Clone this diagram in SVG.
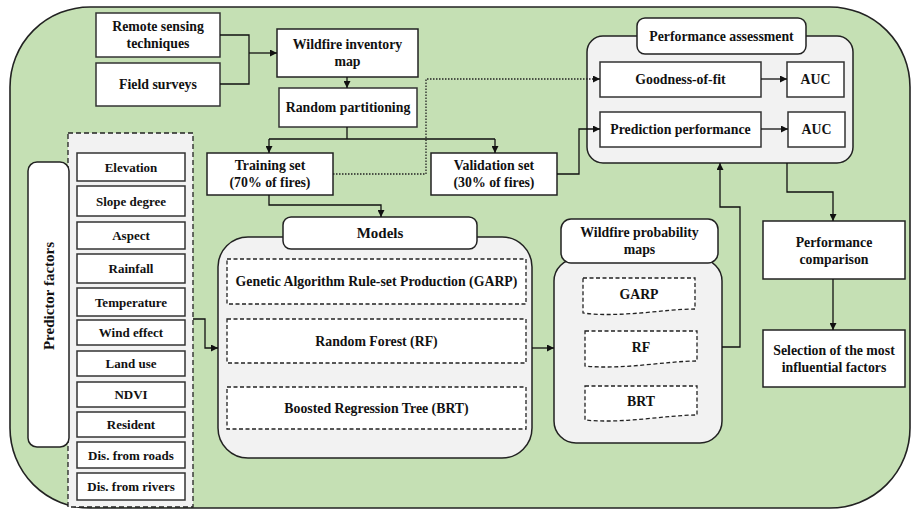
<svg xmlns="http://www.w3.org/2000/svg" width="912" height="513" viewBox="0 0 912 513">
<defs>
<marker id="ah" viewBox="0 0 10 10" refX="10" refY="5" markerWidth="7" markerHeight="7" markerUnits="userSpaceOnUse" orient="auto">
<path d="M0,0 L10,5 L0,10 Z" fill="#111"/>
</marker>
<style>
.bx{fill:#fff;stroke:#333;stroke-width:1.5}
.rb{fill:#fff;stroke:#222;stroke-width:1.5}
.gr{fill:#f2f2f2;stroke:#222;stroke-width:1.5}
.ds{fill:#fff;stroke:#222;stroke-width:1.3;stroke-dasharray:4,2.5}
.dg{fill:#f2f2f2;stroke:#222;stroke-width:1.3;stroke-dasharray:5,3}
.ln{fill:none;stroke:#111;stroke-width:1.3}
.ar{fill:none;stroke:#111;stroke-width:1.3;marker-end:url(#ah)}
.dt{fill:none;stroke:#222;stroke-width:1.3;stroke-dasharray:1.5,1.5}
text{font-family:"Liberation Serif","Times New Roman",serif;font-weight:bold;font-size:13.8px;fill:#111;text-anchor:middle}
.f{font-size:13px}
.t14{font-size:15px}
.pf{font-size:15px}
</style>
</defs>
<rect x="0" y="0" width="912" height="513" fill="#fff"/>
<rect x="10" y="7" width="900" height="501" rx="80" ry="80" fill="#c5e0b4" stroke="#222" stroke-width="1.6"/>

<g id="remote-sensing"><rect class="bx" x="96" y="13" width="124" height="44"/><text x="158" y="31">Remote sensing</text><text x="158" y="48">techniques</text></g>
<g id="field-surveys"><rect class="bx" x="96" y="63" width="124" height="43"/><text x="158" y="89">Field surveys</text></g>
<g id="wildfire-inventory"><rect class="rb" x="277" y="29" width="141" height="48"/><text x="347.5" y="49">Wildfire inventory</text><text x="347.5" y="66">map</text></g>
<g id="random-partitioning"><rect class="bx" x="279" y="88" width="138" height="39"/><text x="348" y="112">Random  partitioning</text></g>
<g id="training-set"><rect class="rb" x="207" y="153" width="126" height="42"/><text x="270" y="170">Training set</text><text x="270" y="187">(70% of fires)</text></g>
<g id="validation-set"><rect class="rb" x="431" y="153" width="126" height="42"/><text x="494" y="170">Validation set</text><text x="494" y="187">(30% of fires)</text></g>

<g id="performance-assessment">
<rect class="gr" x="587" y="36" width="266" height="127" rx="16"/>
<rect class="rb" x="637" y="18" width="169" height="36" rx="8"/><text x="721.5" y="41">Performance assessment</text>
</g>
<g id="goodness-of-fit"><rect class="bx" x="600" y="62" width="161" height="35"/><text x="680.5" y="84">Goodness-of-fit</text></g>
<g id="auc-1"><rect class="bx" x="787" y="62" width="57" height="35"/><text x="815.5" y="84">AUC</text></g>
<g id="prediction-performance"><rect class="bx" x="600" y="112" width="161" height="35"/><text x="680.5" y="134">Prediction performance</text></g>
<g id="auc-2"><rect class="bx" x="788" y="112" width="57" height="35"/><text x="816.5" y="134">AUC</text></g>

<g id="predictor-factors">
<rect class="dg" x="68" y="133" width="125" height="374"/>
<rect class="rb" x="28" y="162" width="41" height="285" rx="9"/>
<text class="pf" transform="translate(53.5,296) rotate(-90)">Predictor factors</text>
</g>
<g id="elevation"><rect class="bx" x="77" y="153" width="108" height="28"/><text class="f" x="131" y="171.5">Elevation</text></g>
<g id="slope"><rect class="bx" x="77" y="186" width="108" height="30"/><text class="f" x="131" y="205.5">Slope degree</text></g>
<g id="aspect"><rect class="bx" x="77" y="222" width="108" height="27"/><text class="f" x="131" y="240">Aspect</text></g>
<g id="rainfall"><rect class="bx" x="77" y="254" width="108" height="29"/><text class="f" x="131" y="273">Rainfall</text></g>
<g id="temperature"><rect class="bx" x="77" y="288" width="108" height="28"/><text class="f" x="131" y="306.5">Temperature</text></g>
<g id="wind"><rect class="bx" x="77" y="320" width="108" height="25"/><text class="f" x="131" y="337">Wind effect</text></g>
<g id="landuse"><rect class="bx" x="77" y="351" width="108" height="25"/><text class="f" x="131" y="368">Land  use</text></g>
<g id="ndvi"><rect class="bx" x="77" y="382" width="108" height="25"/><text class="f" x="131" y="399">NDVI</text></g>
<g id="resident"><rect class="bx" x="77" y="412" width="108" height="25"/><text class="f" x="131" y="429">Resident</text></g>
<g id="roads"><rect class="bx" x="77" y="442" width="108" height="26"/><text class="f" x="131" y="459.5">Dis. from roads</text></g>
<g id="rivers"><rect class="bx" x="77" y="473" width="108" height="27"/><text class="f" x="131" y="491">Dis. from rivers</text></g>

<g id="models">
<rect class="gr" x="218" y="237" width="314" height="221" rx="30"/>
<rect class="rb" x="283" y="217" width="194" height="32" rx="8"/><text class="t14" x="380" y="238">Models</text>
</g>
<g id="garp-model"><rect class="ds" x="227" y="259" width="299" height="45"/><text x="376.5" y="286">Genetic Algorithm Rule-set Production (GARP)</text></g>
<g id="rf-model"><rect class="ds" x="227" y="319" width="299" height="44"/><text x="376.5" y="345.5">Random Forest (RF)</text></g>
<g id="brt-model"><rect class="ds" x="227" y="387" width="299" height="42"/><text x="376.5" y="412.5">Boosted Regression Tree (BRT)</text></g>

<g id="probability-maps">
<rect class="gr" x="554" y="259" width="168" height="184" rx="22"/>
<rect class="rb" x="561" y="219" width="157" height="44" rx="10"/><text x="639.5" y="237">Wildfire probability</text><text x="639.5" y="254">maps</text>
</g>
<g id="garp-map"><path class="ds" d="M583,278 H695 V309 C665,309 620,318 583,313 Z"/><text x="639" y="299">GARP</text></g>
<g id="rf-map"><path class="ds" d="M585,331 H697 V361 C667,361 622,370 585,366 Z"/><text x="641" y="352">RF</text></g>
<g id="brt-map"><path class="ds" d="M585,386 H697 V415 C667,415 622,424 585,420 Z"/><text x="641" y="406">BRT</text></g>

<g id="performance-comparison"><rect class="rb" x="763" y="221" width="142" height="58"/><text x="834" y="247">Performance</text><text x="834" y="264">comparison</text></g>
<g id="selection"><rect class="rb" x="763" y="330" width="142" height="57"/><text x="834" y="355">Selection of the most</text><text x="834" y="372">influential factors</text></g>

<g id="connectors">
<path class="ln" d="M220,35 H249 V84 H220"/>
<path class="ar" d="M249,53 H277"/>
<path class="ar" d="M347,77 V88"/>
<path class="ln" d="M347,127 V139 M269,139 H495"/>
<path class="ar" d="M269,139 V153"/>
<path class="ar" d="M495,139 V153"/>
<path class="dt" d="M333,174 H426 V79 H594"/>
<path class="ar" d="M594,79 H600"/>
<path class="ar" d="M557,174 H579 V129 H600"/>
<path class="ar" d="M761,79 H787"/>
<path class="ar" d="M761,129 H788"/>
<path class="ar" d="M269,195 V205 H381 V217"/>
<path class="ar" d="M193,319 H205 V348 H218"/>
<path class="ar" d="M532,348 H554"/>
<path class="ar" d="M722,347 H740 V207 H720 V163"/>
<path class="ar" d="M787,163 V192 H833 V221"/>
<path class="ar" d="M833,279 V330"/>
</g>
</svg>
